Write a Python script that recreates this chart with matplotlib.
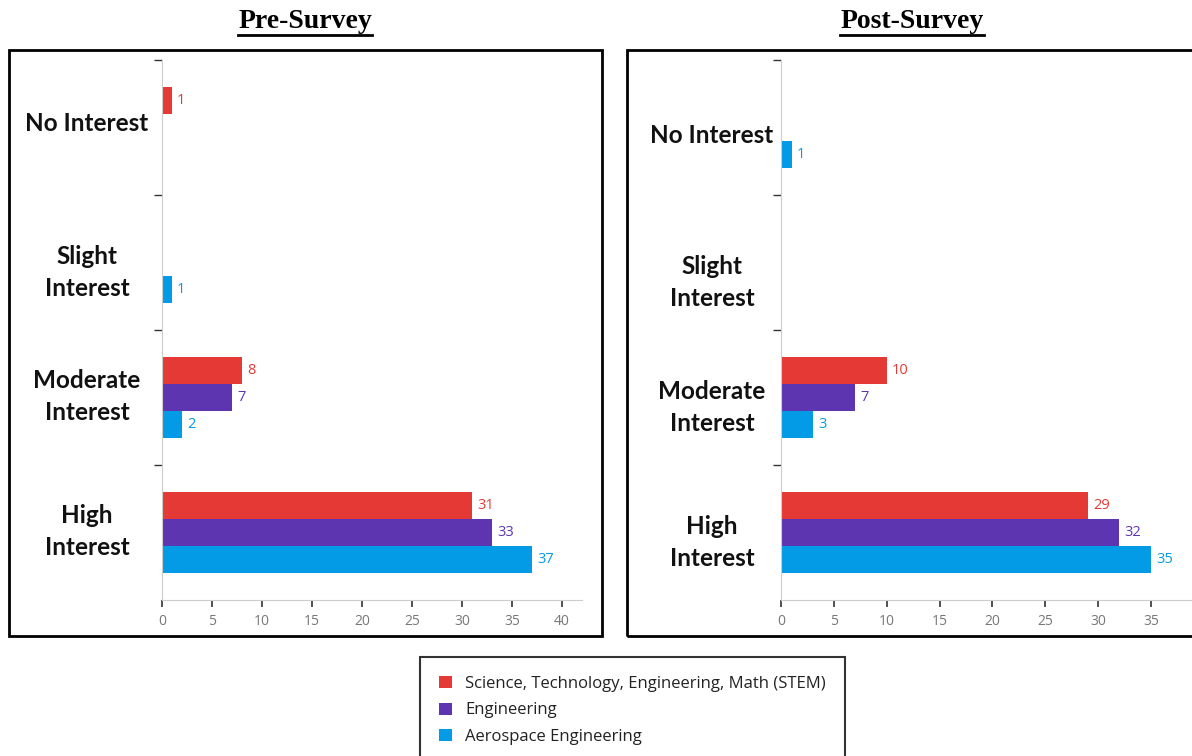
import matplotlib
matplotlib.use("Agg")
import matplotlib.pyplot as plt
from matplotlib.patches import Rectangle
from matplotlib.lines import Line2D

categories = ["No Interest", "Slight\nInterest", "Moderate\nInterest", "High\nInterest"]
series_names = ["Science, Technology, Engineering, Math (STEM)", "Engineering", "Aerospace Engineering"]
colors = ["#E53935", "#5E35B1", "#039BE5"]

pre_stem = [1, 0, 8, 31]
pre_eng = [0, 0, 7, 33]
pre_aero = [0, 1, 2, 37]

post_stem = [0, 0, 10, 29]
post_eng = [0, 0, 7, 32]
post_aero = [1, 0, 3, 35]

pre_xticks = [0, 5, 10, 15, 20, 25, 30, 35, 40]
post_xticks = [0, 5, 10, 15, 20, 25, 30, 35]

W, H = 1192, 756
fig = plt.figure(figsize=(W / 100, H / 100), dpi=100)


def fx(px):
    return px / W


def fy(py):
    return 1 - py / H


def draw_panel(left_px, width_px, data, xticks, title, title_x, label_x, label_dys):
    ax = fig.add_axes([fx(left_px), fy(600), width_px / W, 540 / H])
    bh = 0.2
    offsets = [-0.2, 0.0, 0.2]
    handles = []
    for s, (vals, col, off) in enumerate(zip(data, colors, offsets)):
        ys = [i + off for i in range(len(categories))]
        h = ax.barh(ys, vals, height=bh, color=col, label=series_names[s])
        handles.append(h)
        for y, v in zip(ys, vals):
            if v > 0:
                ax.text(v + 0.5, y, str(v), color=col, va="center", ha="left",
                        fontsize=10.5, family="Open Sans")
    ax.set_ylim(3.5, -0.5)
    ax.set_xlim(0, 42)
    ax.set_xticks(xticks)
    ax.set_xticklabels([str(t) for t in xticks], color="#777777", fontsize=10, family="Open Sans")
    ax.set_yticks([-0.5, 0.5, 1.5, 2.5])
    ax.set_yticklabels([])
    ax.tick_params(axis="y", length=6, width=1, color="#333333", pad=2)
    ax.tick_params(axis="x", length=5, width=1.2, color="#333333", pad=5, direction="out")
    for sp in ["top", "right"]:
        ax.spines[sp].set_visible(False)
    ax.spines["left"].set_color("#cccccc")
    ax.spines["bottom"].set_color("#cccccc")
    for i, (c, dy) in enumerate(zip(categories, label_dys)):
        ax.annotate(c, xy=(0, i), xycoords=("axes fraction", "data"),
                    xytext=(label_x - left_px, -dy), textcoords="offset pixels",
                    ha="center", va="center", fontsize=17.5, fontweight="bold",
                    family="Lato", linespacing=1.45, color="#111111")
    t = fig.text(fx(title_x), fy(21), title, ha="center", va="center",
                 fontsize=20, fontweight="bold", family="Liberation Serif")
    return ax, handles, t


ax1, handles, t1 = draw_panel(162, 420, [pre_stem, pre_eng, pre_aero], pre_xticks,
                              "Pre-Survey", 305, 87, [-4, 10, -1, -1])
ax2, _, t2 = draw_panel(781, 444, [post_stem, post_eng, post_aero], post_xticks,
                        "Post-Survey", 912, 712, [8, 20, 10, 10])

fig.canvas.draw()
r = fig.canvas.get_renderer()
for t in (t1, t2):
    bb = t.get_window_extent(renderer=r)
    fig.add_artist(Line2D([bb.x0 / W, bb.x1 / W], [fy(35), fy(35)],
                          color="black", linewidth=2, transform=fig.transFigure))

fig.add_artist(Rectangle((fx(9), fy(636)), (602 - 9) / W, (636 - 50) / H,
                         transform=fig.transFigure, fill=False, edgecolor="black", linewidth=2))
fig.add_artist(Rectangle((fx(627), fy(636)), (1250 - 627) / W, (636 - 50) / H,
                         transform=fig.transFigure, fill=False, edgecolor="black", linewidth=2))

leg = fig.legend(handles=handles, labels=series_names, loc="upper left",
                 bbox_to_anchor=(fx(420), fy(657)), frameon=True, fancybox=False,
                 edgecolor="#333333", framealpha=1, prop={"family": "Open Sans", "size": 12},
                 handlelength=0.75, handleheight=0.75, handletextpad=0.8, labelspacing=0.62,
                 borderpad=1.15, borderaxespad=0)
leg.get_frame().set_linewidth(1.5)
for txt in leg.get_texts():
    txt.set_color("#222222")

fig.savefig("out.png", dpi=100)
